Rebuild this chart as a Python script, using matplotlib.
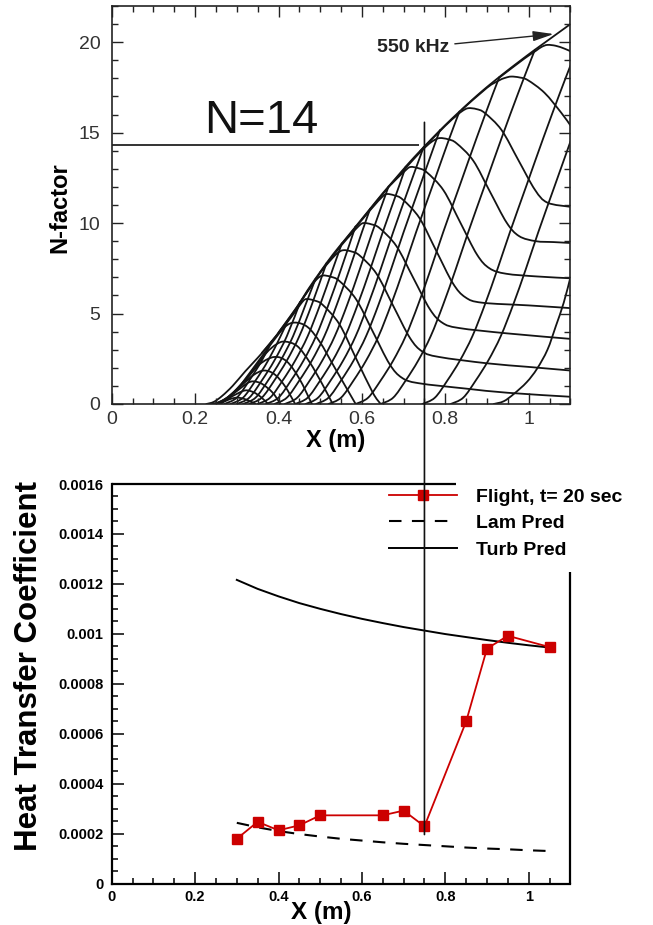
import numpy as np
import matplotlib
matplotlib.use("Agg")
import matplotlib.pyplot as plt
from matplotlib.path import Path
from matplotlib.patches import PathPatch, ConnectionPatch
from matplotlib.lines import Line2D
from matplotlib.ticker import MultipleLocator, FuncFormatter

plt.rcParams['font.family'] = ['Liberation Sans', 'DejaVu Sans']

# ---------------- top panel: N-factor curves, (x [m], N) ----------------
envelope = [(0.227, 0.0), (0.245, 0.12), (0.265, 0.45), (0.29, 1.0), (0.32, 1.8), (0.35, 2.55),
            (0.38, 3.35), (0.41, 4.25), (0.44, 5.2), (0.47, 6.3), (0.50, 7.3), (0.53, 8.25),
            (0.56, 9.1), (0.59, 9.95), (0.62, 10.8), (0.65, 11.65), (0.68, 12.45), (0.71, 13.25),
            (0.74, 14.0), (0.77, 14.72), (0.80, 15.42), (0.83, 16.08), (0.86, 16.72), (0.89, 17.33),
            (0.92, 17.9), (0.95, 18.45), (0.98, 18.98), (1.01, 19.5), (1.04, 20.0), (1.07, 20.5),
            (1.10, 21.0)]

arch_s1 = [(0.240, 0.0), (0.265, 0.10), (0.285, 0.28), (0.300, 0.35), (0.315, 0.30), (0.330, 0.17), (0.345, 0.0)]
arch_s2 = [(0.243, 0.0), (0.270, 0.18), (0.295, 0.50), (0.320, 0.75), (0.340, 0.65), (0.358, 0.38), (0.375, 0.0)]
arch_s3 = [(0.246, 0.0), (0.275, 0.30), (0.305, 0.80), (0.325, 1.15), (0.340, 1.25), (0.360, 1.12), (0.385, 0.65), (0.405, 0.0)]
arch_s4 = [(0.250, 0.0), (0.280, 0.40), (0.310, 1.00), (0.340, 1.60), (0.365, 1.85), (0.390, 1.65), (0.415, 1.00), (0.440, 0.0)]
arch_s5 = [(0.254, 0.0), (0.285, 0.50), (0.320, 1.30), (0.355, 2.20), (0.390, 2.60), (0.420, 2.35), (0.450, 1.40), (0.480, 0.0)]
arch_s6 = [(0.258, 0.0), (0.290, 0.60), (0.330, 1.60), (0.370, 2.80), (0.395, 3.30), (0.415, 3.45), (0.445, 3.20),
           (0.475, 2.30), (0.505, 1.10), (0.530, 0.0)]
arch_s7 = [(0.262, 0.0), (0.300, 0.80), (0.340, 2.00), (0.380, 3.25), (0.415, 4.25), (0.440, 4.50), (0.470, 4.25),
           (0.500, 3.40), (0.530, 2.20), (0.560, 1.00), (0.585, 0.0)]
arch_7 = [(0.360, 2.82), (0.410, 4.20), (0.440, 5.10), (0.455, 5.58), (0.466, 5.80), (0.486, 5.72), (0.506, 5.48),
          (0.546, 4.41), (0.586, 2.52), (0.626, 0.63), (0.645, 0.0)]
arch_8 = [(0.400, 3.95), (0.450, 5.55), (0.475, 6.40), (0.492, 6.90), (0.506, 7.10), (0.526, 7.03), (0.546, 6.80),
          (0.586, 5.79), (0.626, 4.01), (0.666, 2.22), (0.696, 1.45), (0.736, 1.15), (0.850, 0.85), (0.950, 0.62),
          (1.100, 0.40)]
arch_9 = [(0.450, 5.55), (0.500, 7.25), (0.525, 7.95), (0.541, 8.33), (0.555, 8.50), (0.575, 8.43), (0.595, 8.20),
          (0.635, 7.20), (0.675, 5.43), (0.715, 3.66), (0.745, 2.90), (0.785, 2.60), (0.900, 2.25), (1.000, 2.05),
          (1.100, 1.85)]
arch_10 = [(0.500, 7.28), (0.550, 8.75), (0.575, 9.40), (0.590, 9.78), (0.603, 10.00), (0.623, 9.93), (0.643, 9.71),
           (0.683, 8.72), (0.723, 6.98), (0.763, 5.24), (0.793, 4.49), (0.833, 4.20), (0.950, 3.90), (1.100, 3.60)]
arch_11 = [(0.550, 8.80), (0.600, 10.18), (0.630, 10.98), (0.645, 11.36), (0.658, 11.60), (0.678, 11.53),
           (0.698, 11.30), (0.738, 10.28), (0.778, 8.48), (0.818, 6.68), (0.848, 5.90), (0.888, 5.60),
           (1.000, 5.45), (1.100, 5.30)]
arch_12 = [(0.600, 10.20), (0.660, 11.88), (0.690, 12.60), (0.703, 12.88), (0.716, 13.10), (0.736, 13.03),
           (0.756, 12.80), (0.796, 11.80), (0.836, 10.03), (0.876, 8.26), (0.906, 7.50), (0.946, 7.20),
           (1.020, 7.05), (1.100, 6.95)]
arch_13 = [(0.670, 12.15), (0.730, 13.68), (0.757, 14.30), (0.773, 14.58), (0.787, 14.70), (0.807, 14.63),
           (0.827, 14.41), (0.867, 13.45), (0.907, 11.74), (0.947, 10.03), (0.977, 9.28), (1.017, 9.00),
           (1.060, 8.95), (1.100, 8.90)]
arch_14 = [(0.740, 13.98), (0.800, 15.38), (0.826, 15.92), (0.841, 16.20), (0.855, 16.35), (0.875, 16.30),
           (0.895, 16.08), (0.935, 15.14), (0.975, 13.49), (1.015, 11.84), (1.045, 11.13), (1.100, 10.90)]
arch_15 = [(0.840, 16.27), (0.900, 17.48), (0.930, 17.90), (0.944, 18.03), (0.958, 18.10), (0.978, 18.05),
           (0.998, 17.90), (1.038, 17.20), (1.078, 16.10), (1.100, 15.40)]
arch_16 = [(0.930, 18.05), (0.990, 19.10), (1.017, 19.52), (1.031, 19.74), (1.045, 19.85), (1.065, 19.80),
           (1.085, 19.65), (1.100, 19.50)]

rise_1 = [(0.270, 0.0), (0.300, 0.35), (0.330, 1.3), (0.360, 2.4), (0.384, 3.48)]
rise_2 = [(0.285, 0.0), (0.315, 0.35), (0.345, 1.3), (0.375, 2.4), (0.405, 3.75), (0.424, 4.68)]
rise_3 = [(0.300, 0.0), (0.330, 0.35), (0.360, 1.3), (0.390, 2.4), (0.420, 3.75), (0.452, 5.64)]
rise_4 = [(0.315, 0.0), (0.345, 0.35), (0.375, 1.3), (0.405, 2.4), (0.435, 3.75), (0.465, 5.5), (0.489, 6.93)]
rise_5 = [(0.330, 0.0), (0.360, 0.35), (0.390, 1.3), (0.420, 2.4), (0.450, 3.75), (0.480, 5.5), (0.515, 7.78)]
rise_6 = [(0.350, 0.0), (0.380, 0.35), (0.410, 1.3), (0.440, 2.4), (0.470, 3.75), (0.500, 5.5), (0.530, 7.45),
          (0.552, 8.88)]
rise_7 = [(0.370, 0.0), (0.400, 0.35), (0.430, 1.3), (0.460, 2.4), (0.490, 3.75), (0.520, 5.5), (0.550, 7.45),
          (0.580, 9.5), (0.585, 9.81)]
rise_8 = [(0.390, 0.0), (0.420, 0.35), (0.450, 1.3), (0.480, 2.4), (0.510, 3.75), (0.540, 5.5), (0.570, 7.45),
          (0.600, 9.5), (0.620, 10.8)]
rise_9 = [(0.415, 0.0), (0.445, 0.35), (0.475, 1.3), (0.505, 2.4), (0.535, 3.75), (0.565, 5.5), (0.595, 7.45),
          (0.625, 9.5), (0.664, 12.03)]
rise_10 = [(0.440, 0.0), (0.470, 0.35), (0.500, 1.3), (0.530, 2.4), (0.560, 3.75), (0.590, 5.5), (0.620, 7.45),
           (0.650, 9.5), (0.690, 12.1), (0.705, 13.12)]
rise_11 = [(0.465, 0.0), (0.495, 0.35), (0.525, 1.3), (0.555, 2.4), (0.585, 3.75), (0.615, 5.5), (0.645, 7.45),
           (0.675, 9.5), (0.715, 12.1), (0.748, 14.2)]
rise_12 = [(0.490, 0.0), (0.520, 0.35), (0.550, 1.3), (0.580, 2.4), (0.610, 3.75), (0.640, 5.5), (0.670, 7.45),
           (0.700, 9.5), (0.740, 12.1), (0.780, 14.7), (0.788, 15.15)]
rise_13 = [(0.520, 0.0), (0.550, 0.35), (0.580, 1.3), (0.610, 2.4), (0.640, 3.75), (0.670, 5.5), (0.700, 7.45),
           (0.730, 9.5), (0.770, 12.1), (0.810, 14.7), (0.834, 16.17)]
rise_14 = [(0.585, 0.0), (0.615, 0.35), (0.645, 1.3), (0.675, 2.4), (0.705, 3.75), (0.735, 5.5), (0.765, 7.45),
           (0.795, 9.5), (0.835, 12.1), (0.875, 14.7), (0.915, 17.2), (0.930, 18.08)]
rise_550 = [(0.645, 0.0), (0.675, 0.35), (0.705, 1.3), (0.735, 2.4), (0.765, 3.75), (0.795, 5.5), (0.825, 7.45),
            (0.855, 9.5), (0.895, 12.1), (0.935, 14.7), (0.975, 17.2), (1.005, 19.0), (1.015, 19.58)]
rise_16 = [(0.745, 0.0), (0.775, 0.35), (0.805, 1.3), (0.835, 2.4), (0.865, 3.75), (0.895, 5.5), (0.925, 7.45),
           (0.955, 9.5), (0.995, 12.1), (1.035, 14.7), (1.075, 17.2), (1.100, 18.7)]
rise_17 = [(0.813, 0.0), (0.843, 0.35), (0.873, 1.3), (0.903, 2.4), (0.933, 3.75), (0.963, 5.5), (0.993, 7.45),
           (1.023, 9.5), (1.063, 12.1), (1.100, 14.5)]
rise_18 = [(0.916, 0.0), (0.940, 0.15), (0.964, 0.55), (0.995, 1.2), (1.020, 1.95), (1.045, 3.0), (1.065, 4.3),
           (1.084, 5.6), (1.100, 7.0)]

n_curves = [envelope, arch_s1, arch_s2, arch_s3, arch_s4, arch_s5, arch_s6, arch_s7, arch_7, arch_8, arch_9,
            arch_10, arch_11, arch_12, arch_13, arch_14, arch_15, arch_16,
            rise_1, rise_2, rise_3, rise_4, rise_5, rise_6, rise_7, rise_8, rise_9, rise_10, rise_11, rise_12,
            rise_13, rise_14, rise_550, rise_16, rise_17, rise_18]

n_crit = 14.3          # N=14 marker line
x_crit = 0.75          # transition location
label_550 = "550 kHz"

# ---------------- bottom panel: heat transfer coefficient ----------------
flight_x = [0.30, 0.35, 0.40, 0.45, 0.50, 0.65, 0.70, 0.75, 0.85, 0.90, 0.95, 1.05]
flight_y = [0.000179, 0.000247, 0.000213, 0.000233, 0.000273, 0.000273, 0.000292, 0.000229,
            0.000649, 0.000941, 0.000992, 0.000947]
pred_x = [0.30, 0.35, 0.40, 0.45, 0.50, 0.55, 0.60, 0.65, 0.70, 0.75, 0.80, 0.85, 0.90, 0.95, 1.00, 1.05]
turb_y = [0.001216, 0.001180, 0.001150, 0.001123, 0.001100, 0.001079, 0.001060, 0.001043, 0.001027,
          0.001013, 0.000999, 0.000987, 0.000975, 0.000964, 0.000954, 0.000945]
lam_y = [0.000243, 0.000225, 0.000210, 0.000198, 0.000188, 0.000179, 0.000172, 0.000165, 0.000159,
         0.000154, 0.000149, 0.000144, 0.000140, 0.000137, 0.000133, 0.000130]
legend_labels = ["Flight, t= 20 sec", "Lam Pred", "Turb Pred"]


def smooth_path(pts):
    P = np.asarray(pts, float)
    ext = np.vstack([P[0], P, P[-1]])
    verts = [P[0]]
    codes = [Path.MOVETO]
    for i in range(len(P) - 1):
        p0, p1, p2, p3 = ext[i], ext[i + 1], ext[i + 2], ext[i + 3]
        verts += [p1 + (p2 - p0) / 6.0, p2 - (p3 - p1) / 6.0, p2]
        codes += [Path.CURVE4] * 3
    return Path(verts, codes)


fmt = FuncFormatter(lambda v, p: '%g' % round(v, 8))

fig = plt.figure(figsize=(6.53, 9.25), dpi=100)
fig.patch.set_facecolor('white')

W, H = 653.0, 925.0
ax1 = fig.add_axes([111.7 / W, 1 - 404 / H, 458.7 / W, 398 / H])
ax2 = fig.add_axes([111.7 / W, 1 - 883.5 / H, 458.7 / W, 399.5 / H])

# ---- top panel
for c in n_curves:
    ax1.add_patch(PathPatch(smooth_path(c), fill=False, ec='#141414', lw=1.3,
                            capstyle='round', joinstyle='round'))
ax1.set_xlim(0, 1.1)
ax1.set_ylim(0, 22)
ax1.xaxis.set_major_locator(MultipleLocator(0.2))
ax1.xaxis.set_minor_locator(MultipleLocator(0.05))
ax1.yaxis.set_major_locator(MultipleLocator(5))
ax1.yaxis.set_minor_locator(MultipleLocator(1))
ax1.xaxis.set_major_formatter(fmt)
ax1.yaxis.set_major_formatter(fmt)
ax1.tick_params(which='both', direction='in', top=True, right=True, width=1.0, color='#222222')
ax1.tick_params(which='major', length=8, labelsize=14, labelcolor='#333333')
ax1.tick_params(which='minor', length=4.5)
ax1.tick_params(axis='x', which='major', pad=5)
ax1.tick_params(axis='y', which='major', pad=8)
for s in ax1.spines.values():
    s.set_linewidth(1.2)
    s.set_color('#222222')

ax1.plot([0.0, 0.737], [n_crit, n_crit], color='#111111', lw=1.2, solid_capstyle='butt')
ax1.text(0.221, 14.98, "N=14", fontsize=34, va='baseline', ha='left', color='#111111')
ax1.annotate(label_550, xy=(1.060, 20.45), xytext=(0.636, 19.68), fontsize=14, fontweight='bold',
             va='center', ha='left', color='#222222',
             arrowprops=dict(arrowstyle='-|>,head_length=0.9,head_width=0.22', color='#222222', lw=1.0,
                             shrinkA=2, shrinkB=0))

fig.text(60 / W, 1 - 207.5 / H, "N-factor", rotation=90, ha='center', va='center',
         fontsize=17, fontweight='bold')
fig.text(336 / W, 1 - 441 / H, "X (m)", ha='center', va='center', fontsize=17, fontweight='bold')

# ---- bottom panel
ax2.plot(pred_x, turb_y, color='black', lw=1.4)
ax2.plot(pred_x, lam_y, color='black', lw=1.5, dashes=(6, 5))
ax2.plot(flight_x, flight_y, color='#cc0000', lw=1.3, marker='s', markersize=7.5,
         markerfacecolor='#cc0000', markeredgecolor='#cc0000')
ax2.set_xlim(0, 1.1)
ax2.set_ylim(0, 0.0016)
ax2.xaxis.set_major_locator(MultipleLocator(0.2))
ax2.xaxis.set_minor_locator(MultipleLocator(0.05))
ax2.yaxis.set_major_locator(MultipleLocator(0.0002))
ax2.yaxis.set_minor_locator(MultipleLocator(0.00005))
ax2.xaxis.set_major_formatter(fmt)
ax2.yaxis.set_major_formatter(fmt)
ax2.tick_params(which='both', direction='in', top=False, right=False, width=1.1, color='black')
ax2.tick_params(which='major', length=8.5, labelsize=10.5, labelcolor='black')
ax2.tick_params(which='minor', length=4.5)
ax2.tick_params(axis='x', which='major', pad=5)
ax2.tick_params(axis='y', which='major', pad=6)
ax2.spines['top'].set_visible(False)
ax2.spines['right'].set_visible(False)
for k in ('left', 'bottom'):
    ax2.spines[k].set_linewidth(1.6)
ax2.plot([0, 0.7515], [1, 1], transform=ax2.transAxes, color='black', lw=1.6, clip_on=False,
         solid_capstyle='butt')
ax2.plot([1, 1], [0, 0.78], transform=ax2.transAxes, color='black', lw=1.6, clip_on=False,
         solid_capstyle='butt')

handles = [Line2D([], [], color='#cc0000', lw=1.3, marker='s', markersize=7.5),
           Line2D([], [], color='black', lw=1.5, dashes=(6, 5)),
           Line2D([], [], color='black', lw=1.4)]
leg = ax2.legend(handles, legend_labels, loc='upper left', bbox_to_anchor=(389 / W, 1 - 488 / H),
                 bbox_transform=fig.transFigure, frameon=False, borderpad=0, borderaxespad=0,
                 handlelength=3.5, handletextpad=1.0, labelspacing=0.46, numpoints=1,
                 prop=dict(weight='bold', size=14))

fig.text(29 / W, 1 - 666 / H, "Heat Transfer Coefficient", rotation=90, ha='center', va='center',
         fontsize=22.5, fontweight='bold')
fig.text(321 / W, 1 - 913 / H, "X (m)", ha='center', va='center', fontsize=17.5, fontweight='bold')

for lbl in ax2.get_xticklabels() + ax2.get_yticklabels():
    lbl.set_fontweight('bold')

con = ConnectionPatch(xyA=(x_crit, 15.57), coordsA=ax1.transData,
                      xyB=(x_crit, 0.000196), coordsB=ax2.transData,
                      color='#111111', lw=1.2)
fig.add_artist(con)

fig.savefig("out.png", dpi=100, facecolor='white')
